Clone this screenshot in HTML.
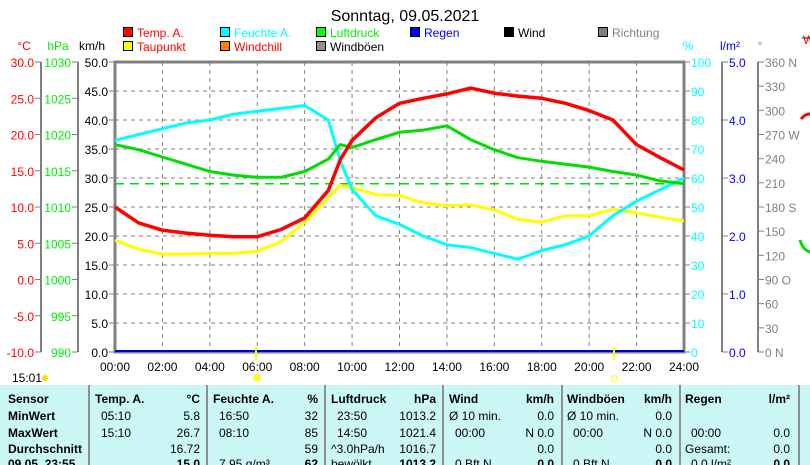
<!DOCTYPE html>
<html><head><meta charset="utf-8">
<style>
body{margin:0;background:#fff;width:810px;height:465px;overflow:hidden;font-family:"Liberation Sans",sans-serif;}
svg{position:absolute;left:0;top:0}
text{font-family:"Liberation Sans",sans-serif;font-size:12px}
</style></head><body>
<svg id="chart" width="810" height="465">
<text x="405" y="21" text-anchor="middle" style="font-size:16px">Sonntag, 09.05.2021</text>
<g id="legend"></g>
<g id="grid"></g>
<g id="axes"></g>
<g id="series"></g>
<g id="table"></g>
</svg>
<script>
const hours=[0,1,2,3,4,5,6,7,8,9,9.5,10,11,12,13,14,15,16,17,18,19,20,21,22,23,24];
const tempValues=[10.0,7.8,6.8,6.4,6.1,5.9,5.9,6.9,8.5,12.3,16.5,19.2,22.3,24.3,25.0,25.6,26.4,25.7,25.3,25.0,24.3,23.3,22.0,18.6,16.8,15.1];
const dewValues=[5.4,4.2,3.5,3.5,3.6,3.6,3.9,5.2,7.9,11.3,13.0,12.7,11.7,11.6,10.6,10.2,10.3,9.6,8.3,7.9,8.8,8.8,9.7,9.2,8.6,8.1];
const humValues=[73,75,77,79,80,82,83,84,85,80,66,56,47,44,40,37,36,34,32,35,37,40,47,52,56,60];
const pressValues=[1018.6,1017.9,1016.9,1015.9,1014.9,1014.4,1014.1,1014.1,1014.9,1016.6,1018.6,1018.2,1019.3,1020.3,1020.6,1021.2,1019.3,1017.9,1016.8,1016.3,1015.9,1015.5,1014.9,1014.4,1013.6,1013.2];
const xTickLabels=["00:00","02:00","04:00","06:00","08:00","10:00","12:00","14:00","16:00","18:00","20:00","22:00","24:00"];
const tempTicks=["30.0","25.0","20.0","15.0","10.0","5.0","0.0","-5.0","-10.0"];
const hpaTicks=["1030","1025","1020","1015","1010","1005","1000","995","990"];
const kmhTicks=["50.0","45.0","40.0","35.0","30.0","25.0","20.0","15.0","10.0","5.0","0.0"];
const pctTicks=["100","90","80","70","60","50","40","30","20","10","0"];
const rainTicks=["5.0","4.0","3.0","2.0","1.0","0.0"];
const dirTicks=["360 N","330","300","270 W","240","210","180 S","150","120","90  O","60","30","0   N"];
const currentPressure=1013.2;
const X0=115,X1=684,Y0=62,Y1=352;
const NS="http://www.w3.org/2000/svg";
function el(tag,attrs,parent,txt){const e=document.createElementNS(NS,tag);for(const k in attrs)e.setAttribute(k,attrs[k]);if(txt!==undefined)e.textContent=txt;parent.appendChild(e);return e;}
const xs=h=>X0+(X1-X0)*h/24;
const yT=t=>Y1-(t+10)/40*(Y1-Y0);
const yP=p=>Y1-(p-990)/40*(Y1-Y0);
const yH=h=>Y1-h/100*(Y1-Y0);
const grid=document.getElementById('grid'),axes=document.getElementById('axes'),series=document.getElementById('series'),legend=document.getElementById('legend'),table=document.getElementById('table');
for(let i=1;i<10;i++){const y=Y0+i*(Y1-Y0)/10;const g=el('line',{x1:X0,x2:X1,y1:y,y2:y,stroke:'#808080','stroke-dasharray':'4,4'},grid);}
for(let i=1;i<12;i++){const x=xs(i*2);const g=el('line',{x1:x,x2:x,y1:Y0,y2:Y1,stroke:'#808080','stroke-dasharray':'4,4'},grid);}
const fr=el('rect',{x:X0,y:Y0,width:X1-X0,height:Y1-Y0,fill:'none',stroke:'#808080','stroke-width':3},axes);

function vAxis(x,labels,color,side,name,unit,ux){
 const g=el('g',{},axes);
 el('line',{x1:x,x2:x,y1:Y0,y2:Y1,stroke:'#808080','stroke-width':2},g);
 const n=labels.length-1;
 labels.forEach((l,i)=>{const y=Y0+i*(Y1-Y0)/n;
  el('line',{x1:side<0?x-6:x,x2:side<0?x:x+6,y1:y,y2:y,stroke:'#808080'},g);
  const t=el('text',{x:side<0?x-7:x+7,y:y+5,fill:color,'text-anchor':side<0?'end':'start'},g,l);
  });
 const u=el('text',{x:ux,y:50,fill:color,'text-anchor':'middle'},g,unit);
 
}
vAxis(41,tempTicks,'#ff0000',-1,'temp-axis','°C',24);
vAxis(78,hpaTicks,'#00ee00',-1,'pressure-axis','hPa',58);
vAxis(X0,kmhTicks,'#000',-1,'wind-axis','km/h',92);
vAxis(X1,pctTicks,'#00ffff',1,'humidity-axis','%',688);
vAxis(722,rainTicks,'#0000ff',1,'rain-axis','l/m²',730);
vAxis(758,dirTicks,'#808080',1,'direction-axis','°',760);
xTickLabels.forEach((l,i)=>{const t=el('text',{x:xs(i*2),y:371,'text-anchor':'middle'},axes,l);});
function line(vals,fy,color,name,w){const pts=hours.map((h,i)=>xs(h).toFixed(1)+','+fy(vals[i]).toFixed(1)).join(' ');const p=el('polyline',{points:pts,fill:'none',stroke:color,'stroke-width':w||3,'stroke-linejoin':'round'},series);}
const cp=el('line',{x1:X0,x2:X1,y1:yP(currentPressure),y2:yP(currentPressure),stroke:'#00dd00','stroke-width':1.5,'stroke-dasharray':'9,6'},series);

const rl=el('line',{x1:X0,x2:X1,y1:351,y2:351,stroke:'#0000cc','stroke-width':2},series);

line(dewValues,yT,'#ffff00','dewpoint-series');
line(humValues,yH,'#00ffff','humidity-series');
line(pressValues,yP,'#00dd00','pressure-series');
line(tempValues,yT,'#ff0000','temperature-series',3.5);
[256,614].forEach(x=>{const m=el('line',{x1:x,x2:x,y1:347,y2:360,stroke:'#ffff00','stroke-width':2},series);});
const sun=el('circle',{cx:257,cy:378,r:3.5,fill:'#ffff00',stroke:'#ffee88'},series);
const ss=el('rect',{x:612,y:376,width:5,height:5,fill:'none',stroke:'#ffff00'},series);
const legItems=[[123,37,'#ff0000','Temp. A.','#ff0000'],[220,37,'#00ffff','Feuchte A.','#00ffff'],[316,37,'#00ff00','Luftdruck','#00ee00'],[410,37,'#0000ff','Regen','#0000ff'],[504,37,'#000','Wind','#000'],[598,37,'#808080','Richtung','#808080'],[123,51,'#ffff00','Taupunkt','#ff0000'],[220,51,'#ff8000','Windchill','#ff0000'],[316,51,'#909090','Windböen','#000']];
legItems.forEach(it=>{const g=el('g',{},legend);
 el('rect',{x:it[0]+0.5,y:it[1]-9.5,width:9,height:9,fill:it[2],stroke:'#000'},g);
 el('text',{x:it[0]+14,y:it[1],fill:it[4]},g,it[3]);});
const ts=el('text',{x:12,y:382},legend,'15:01');
el('circle',{cx:45,cy:378,r:3,fill:'#ffdd00'},legend);
el('line',{x1:802,x2:810,y1:38,y2:38,stroke:'#808080','stroke-width':2},legend);
el('text',{x:803,y:44,fill:'#ff0000'},legend,'W');
el('path',{d:'M801 119 Q805 114 810 114',stroke:'#ff0000','stroke-width':3,fill:'none'},legend);
el('path',{d:'M800 240 Q803 250 810 252',stroke:'#00dd00','stroke-width':3,fill:'none'},legend);
el('rect',{x:0,y:385,width:810,height:80,fill:'#ccf7f7'},table);
[89,207,325,443,562,680,799].forEach(x=>el('line',{x1:x,x2:x,y1:385,y2:465,stroke:'#909090','stroke-width':2},table));
const rowsY=[403,420,437,453,468];
const rowLabels=['Sensor','MinWert','MaxWert','Durchschnitt','09.05. 23:55'];
rowLabels.forEach((l,i)=>{const t=el('text',{x:8,y:rowsY[i],'font-weight':'bold'},table,l);});
const cols=[[95,200,'Temp. A.','°C',['05:10','15:10','',''],['5.8','26.7','16.72','15.0']],
[213,318,'Feuchte A.','%',['16:50','08:10','','7.95 g/m³'],['32','85','59','62']],
[331,436,'Luftdruck','hPa',['23:50','14:50','^3.0hPa/h','bewölkt'],['1013.2','1021.4','1016.7','1013.2']],
[449,554,'Wind','km/h',['Ø 10 min.','  00:00','','  0 Bft N'],['0.0','N 0.0','0.0','0.0']],
[567,672,'Windböen','km/h',['Ø 10 min.','  00:00','','  0 Bft N'],['0.0','N 0.0','0.0','0.0']],
[685,790,'Regen','l/m²',['','  00:00','Gesamt:',' 0.0 l/m²'],['','0.0','0.0','0.0']]];
cols.forEach(c=>{const g=el('g',{},table);
 el('text',{x:c[0],y:rowsY[0],'font-weight':'bold'},g,c[2]);
 el('text',{x:c[1],y:rowsY[0],'font-weight':'bold','text-anchor':'end'},g,c[3]);
 c[4].forEach((v,i)=>el('text',{x:c[0]+(v.startsWith('Ø')||v.startsWith('^')||v.startsWith('b')||v.startsWith('G')?0:6),y:rowsY[i+1],'xml:space':'preserve'},g,v));
 c[5].forEach((v,i)=>el('text',{x:c[1],y:rowsY[i+1],'text-anchor':'end','font-weight':i==3?'bold':'normal'},g,v));});
</script>
</body></html>
